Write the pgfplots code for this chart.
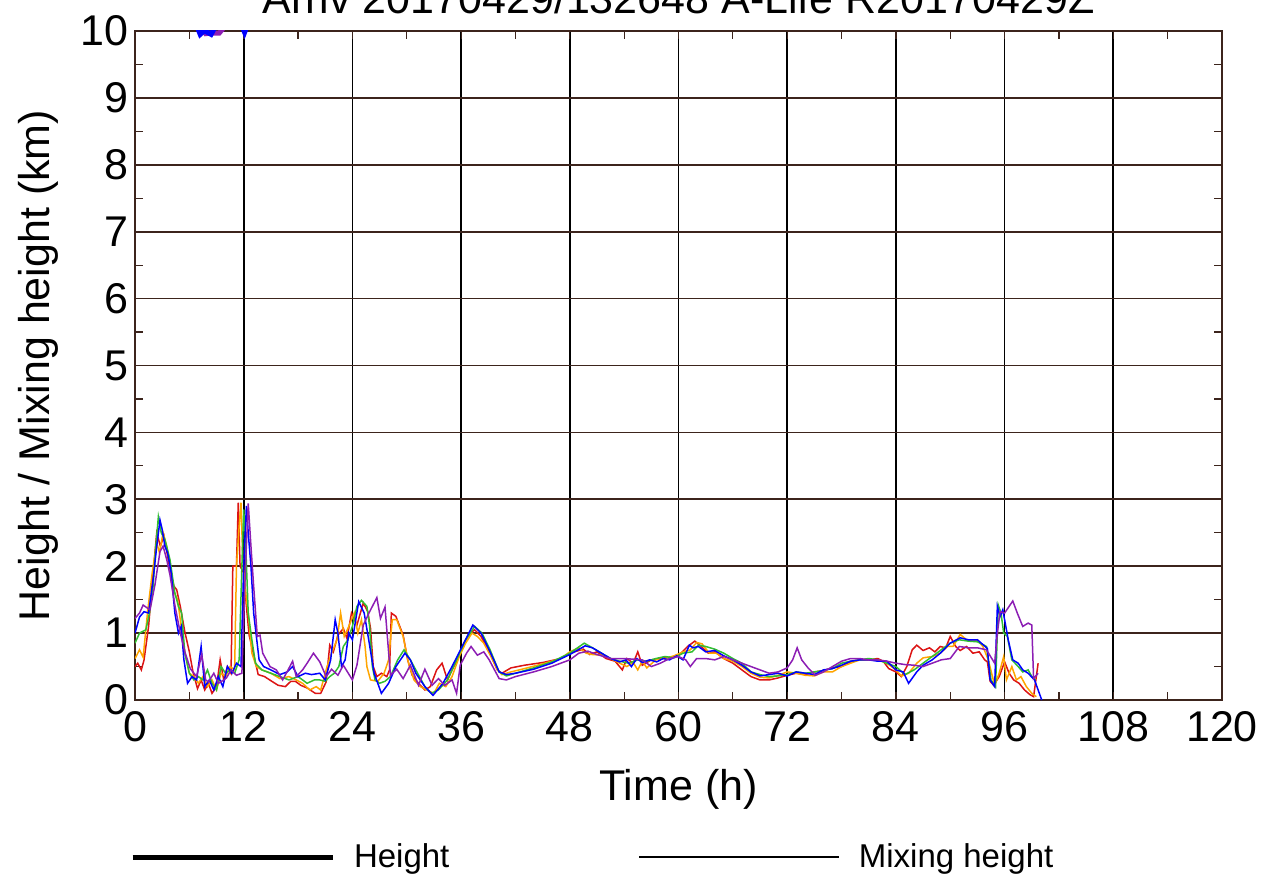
\documentclass[border=0pt]{standalone}
\usepackage{pgfplots}
\pgfplotsset{compat=1.18}
\usepackage{fontspec}
\setmainfont{Liberation Sans}

\definecolor{framec}{RGB}{60,36,28}
\definecolor{cred}{RGB}{220,20,20}
\definecolor{corange}{RGB}{255,165,0}
\definecolor{cgreen}{RGB}{50,190,50}
\definecolor{cblue}{RGB}{0,0,255}
\definecolor{cpurple}{RGB}{140,30,180}

\begin{document}
\begin{tikzpicture}
\begin{axis}[
  scale only axis,
  width=543.5pt, height=334.5pt,
  xmin=0, xmax=120, ymin=0, ymax=10,
  xtick={0,12,...,120}, ytick={0,1,...,10},
  minor x tick num=1, minor y tick num=1,
  tick align=inside,
  major tick length=4pt, minor tick length=4pt,
  every tick/.style={framec, line width=0.6pt},
  grid=major,
  major x grid style={black, line width=0.85pt},
  major y grid style={framec, line width=0.85pt},
  axis line style={framec, line width=1pt},
  /pgf/number format/assume math mode=true,
  tick label style={font=\fontsize{21.5}{24}\selectfont},
  xticklabel style={yshift=-2pt},
  xlabel={Time (h)},
  ylabel={Height / Mixing height (km)},
  label style={font=\fontsize{21.5}{24}\selectfont},
  xlabel style={at={(axis description cs:0.5,0)}, anchor=base, yshift=-50pt},
  ylabel style={at={(axis description cs:-0.0782,0.5)}, anchor=base, rotate=0},
  title={Arriv 20170429/132648 A-Life R20170429Z},
  title style={font=\fontsize{21.5}{24}\selectfont, at={(axis description cs:0.5,1)}, anchor=base, yshift=2.5pt},
  legend columns=2,
  legend image code/.code={\draw[#1] (0pt,0pt) -- (100pt,0pt);},
  legend style={draw=none, fill=none, inner sep=0pt, outer sep=0pt,
    font=\fontsize{16.5}{19}\selectfont,
    at={(axis description cs:-0.0046,-0.2347)}, anchor=west,
    nodes={inner sep=0pt},
    /tikz/every odd column/.append style={column sep=9.5pt},
    /tikz/every even column/.append style={column sep=94.5pt}},
  every axis plot/.append style={line width=0.75pt},
]
\addlegendimage{black, line width=2.5pt}
\addlegendentry{Height}
\addlegendimage{black, line width=0.75pt}
\addlegendentry{Mixing height}

% red
\addplot[cred, forget plot] coordinates {
(0,0.5)(0.3,0.55)(0.7,0.45)(1.0,0.6)(1.5,1.1)(2.0,1.9)(2.4,2.5)(2.8,2.3)(3.2,2.45)(3.8,2.0)
(4.3,1.7)(4.6,1.65)(5.0,1.4)(5.5,1.02)(6.0,0.72)(6.4,0.42)(6.9,0.17)(7.3,0.3)(7.7,0.15)(8.1,0.25)
(8.5,0.1)(9.0,0.2)(9.4,0.6)(9.8,0.3)(10.2,0.5)(10.6,0.4)(10.8,2.0)(11.2,2.0)(11.4,2.95)(11.6,2.0)
(12.0,1.9)(12.3,1.4)(12.6,0.97)(13.2,0.62)(13.6,0.38)(14.3,0.35)(15.1,0.28)(15.8,0.22)(16.6,0.2)
(17.2,0.28)(17.7,0.28)(18.3,0.22)(19.0,0.18)(19.9,0.1)(20.5,0.1)(21.1,0.27)(21.5,0.82)(21.9,0.72)
(22.4,0.97)(23.0,1.07)(23.4,0.92)(23.9,1.3)(24.5,1.12)(25.2,1.45)(25.7,1.32)(26.0,1.07)(26.3,0.5)
(26.7,0.35)(27.2,0.4)(27.8,0.35)(28.1,0.45)(28.3,1.3)(28.8,1.25)(29.6,0.97)(30.1,0.6)(30.6,0.37)
(31.3,0.25)(32.0,0.15)(32.6,0.2)(33.3,0.45)(33.9,0.55)(34.5,0.3)(35.0,0.45)(35.6,0.6)(36.3,0.85)
(37.0,1.0)(37.5,1.05)(38.2,0.95)(39.0,0.75)(40.0,0.45)(40.5,0.4)(41.5,0.48)(43,0.52)(45,0.56)
(47,0.62)(48,0.7)(49.5,0.76)(50.2,0.68)(51,0.72)(52,0.62)(53,0.58)(53.8,0.45)(54.3,0.62)(55,0.55)
(55.5,0.72)(56,0.52)(57,0.6)(58,0.62)(59,0.64)(60,0.66)(61,0.8)(61.8,0.88)(62.5,0.8)(63.3,0.7)
(64,0.72)(65,0.62)(66,0.55)(67,0.45)(68,0.35)(69,0.3)(70,0.3)(71,0.33)(72,0.37)(73,0.4)(74,0.38)
(75,0.42)(76,0.44)(77,0.48)(78,0.5)(79,0.57)(80,0.6)(81,0.6)(82,0.62)(82.6,0.58)(83.2,0.47)
(84,0.42)(84.6,0.35)(85.2,0.5)(85.8,0.75)(86.3,0.82)(87,0.74)(87.7,0.78)(88.3,0.72)(88.9,0.8)
(89.5,0.78)(90,0.95)(90.6,0.8)(91.1,0.74)(91.8,0.8)(92.5,0.7)(93.2,0.72)(93.8,0.6)(94.1,0.57)
(94.4,0.28)(94.8,0.22)(95.4,0.35)(96,0.57)(96.5,0.4)(97,0.3)(97.6,0.25)(98.2,0.15)(98.8,0.08)
(99.2,0.05)(99.5,0.35)(99.7,0.55)
};
% orange
\addplot[corange, forget plot] coordinates {
(0,0.62)(0.5,0.75)(0.9,0.64)(1.4,1.33)(1.9,1.9)(2.4,2.35)(2.7,2.2)(3.1,2.5)(3.5,2.3)(3.9,2.0)
(4.3,1.62)(4.7,1.5)(5.0,1.2)(5.5,0.72)(6.0,0.4)(6.5,0.35)(7.0,0.25)(7.5,0.35)(8.0,0.2)(8.5,0.3)
(9.0,0.15)(9.5,0.4)(10.0,0.35)(10.5,0.5)(11.0,0.45)(11.2,2.0)(11.5,2.6)(11.7,2.95)(11.9,2.1)
(12.3,1.5)(12.5,1.3)(12.9,0.7)(13.4,0.5)(14.0,0.45)(15,0.4)(16,0.32)(17,0.35)(17.8,0.3)(18.5,0.25)
(19.3,0.15)(20,0.2)(20.5,0.15)(21.2,0.5)(21.7,0.7)(22.3,0.9)(22.7,1.3)(23.1,0.95)(23.6,1.1)
(24.2,1.3)(24.6,1.0)(25.0,1.2)(25.4,0.8)(25.6,0.5)(26.0,0.3)(26.8,0.28)(27.5,0.4)(28.0,0.6)
(28.4,1.2)(28.9,1.2)(29.6,0.95)(30.2,0.55)(30.8,0.3)(31.5,0.2)(32.2,0.15)(33,0.1)(33.6,0.25)
(34.3,0.2)(35,0.35)(35.8,0.65)(36.5,0.85)(37.2,1.0)(37.8,0.95)(38.5,0.85)(39.3,0.65)(40.0,0.45)
(40.5,0.38)(41.5,0.42)(43,0.47)(45,0.54)(47,0.62)(48,0.72)(49,0.78)(49.8,0.7)(50.5,0.68)
(51.5,0.67)(52.5,0.62)(53.5,0.55)(54.3,0.5)(55,0.56)(55.5,0.45)(56,0.58)(56.5,0.48)(57.5,0.6)
(58.5,0.62)(59.5,0.66)(60.5,0.72)(61.3,0.75)(62.0,0.86)(62.6,0.84)(63.4,0.7)(64.2,0.7)(65,0.62)
(66,0.58)(67,0.5)(68,0.4)(69,0.34)(70,0.33)(71,0.37)(72,0.42)(73,0.4)(74,0.37)(75,0.36)(76,0.42)
(77,0.42)(78,0.5)(79,0.55)(80,0.6)(81,0.6)(82,0.6)(83,0.55)(83.5,0.5)(84,0.45)(84.6,0.36)
(85.4,0.4)(86.3,0.55)(87,0.63)(88,0.65)(88.9,0.7)(89.7,0.8)(90.3,0.8)(91.1,0.98)(91.8,0.9)
(92.5,0.88)(93,0.9)(93.6,0.8)(94.2,0.6)(94.9,0.22)(95.4,0.4)(95.9,0.65)(96.2,0.3)(96.8,0.5)
(97.3,0.3)(97.8,0.35)(98.4,0.2)(99.0,0.1)(99.5,0.05)
};
% green
\addplot[cgreen, forget plot] coordinates {
(0,0.85)(0.5,1.0)(1.2,1.05)(1.6,1.3)(2.0,1.7)(2.3,2.3)(2.58,2.74)(2.9,2.5)(3.3,2.4)(3.86,2.1)
(4.4,1.6)(4.8,1.4)(5.15,1.3)(5.5,0.7)(6.0,0.4)(6.5,0.3)(7.0,0.35)(7.5,0.3)(8.0,0.45)(8.5,0.25)
(9.0,0.15)(9.5,0.5)(10.0,0.4)(10.5,0.45)(11,0.4)(11.5,0.6)(11.8,2.0)(12.0,2.85)(12.2,2.4)
(12.5,1.3)(12.9,0.9)(13.3,0.55)(14,0.45)(15,0.4)(16,0.35)(17,0.3)(18,0.35)(19,0.25)(19.8,0.3)
(20.4,0.3)(21,0.28)(21.5,0.35)(22,0.4)(22.5,0.5)(23.0,0.8)(23.5,0.9)(24,1.1)(24.5,1.4)(25.0,1.49)
(25.6,1.4)(25.9,1.1)(26.2,0.5)(26.5,0.3)(27,0.25)(27.6,0.28)(28.2,0.35)(29,0.6)(29.7,0.75)
(30.4,0.6)(31,0.45)(32,0.2)(32.7,0.1)(33.5,0.15)(34.5,0.3)(35.5,0.6)(36.5,0.9)(37.5,1.1)(38.3,1.0)
(39.2,0.75)(40.2,0.42)(41,0.36)(42,0.4)(44,0.48)(46,0.57)(48,0.7)(49.6,0.85)(50.5,0.78)(51.5,0.7)
(52.5,0.62)(53.5,0.58)(54.5,0.55)(55.5,0.6)(56.5,0.58)(57.5,0.62)(58.5,0.65)(59.5,0.63)(60.5,0.7)
(61.5,0.72)(62.2,0.82)(63,0.8)(64,0.76)(65,0.7)(66,0.62)(67,0.55)(68,0.42)(69,0.38)(70,0.35)
(71,0.36)(72,0.38)(73,0.42)(74,0.4)(75,0.42)(76,0.44)(77,0.47)(78,0.55)(79,0.58)(80,0.6)(81,0.62)
(82,0.6)(83,0.55)(84,0.5)(85,0.38)(86,0.45)(87,0.55)(88,0.65)(89,0.75)(90,0.85)(91,0.9)(92,0.88)
(93,0.87)(94,0.8)(94.5,0.3)(95,0.2)(95.3,1.42)(95.6,1.3)(95.9,1.0)(96.3,0.95)(96.8,0.6)(97.5,0.5)
(98,0.42)(98.6,0.45)(99,0.35)(99.4,0.3)
};
% blue
\addplot[cblue, forget plot] coordinates {
(0,1.0)(0.5,1.24)(1.0,1.32)(1.5,1.3)(2.0,1.8)(2.4,2.3)(2.76,2.69)(3.0,2.55)(3.3,2.3)(3.6,2.2)
(4.0,1.9)(4.4,1.3)(4.8,1.0)(5.1,1.1)(5.4,0.6)(5.8,0.25)(6.3,0.35)(6.8,0.3)(7.3,0.8)(7.7,0.2)
(8.2,0.3)(8.7,0.15)(9.2,0.35)(9.7,0.2)(10.2,0.5)(10.7,0.4)(11.2,0.55)(11.7,0.5)(12.0,2.0)(12.3,2.9)
(12.5,2.5)(12.8,2.0)(13.1,1.3)(13.4,0.95)(13.7,0.6)(14.2,0.5)(15,0.45)(16,0.38)(16.8,0.42)
(17.4,0.5)(18,0.35)(18.8,0.4)(19.5,0.38)(20.4,0.4)(21,0.3)(21.6,0.6)(22.1,1.2)(22.4,1.0)(22.8,0.5)
(23.2,0.6)(23.6,1.0)(24,0.9)(24.7,1.47)(25.3,1.3)(25.8,0.9)(26.4,0.4)(27.2,0.1)(28,0.25)(28.8,0.5)
(29.8,0.7)(30.4,0.6)(31,0.4)(32,0.2)(32.9,0.07)(34,0.25)(35,0.5)(36.3,0.85)(37.3,1.12)(38.2,1.0)
(39.2,0.72)(40.2,0.42)(41,0.38)(42,0.4)(44,0.46)(46,0.55)(48,0.68)(49.7,0.81)(50.5,0.78)(51.5,0.7)
(52.5,0.62)(53.5,0.57)(54.2,0.6)(54.8,0.5)(55.4,0.62)(56,0.56)(56.8,0.6)(57.6,0.57)(58.3,0.62)
(59,0.6)(59.8,0.66)(60.5,0.6)(61.2,0.82)(61.6,0.78)(62.2,0.8)(63,0.72)(64,0.74)(65,0.66)(66,0.6)
(67,0.52)(68,0.42)(69,0.36)(70,0.38)(71,0.4)(72,0.36)(73,0.42)(74,0.4)(75,0.38)(76,0.45)(77,0.47)
(78,0.52)(79,0.58)(80,0.6)(81,0.6)(82,0.58)(83,0.58)(84,0.45)(84.8,0.42)(85.4,0.25)(86.3,0.42)
(87,0.52)(88,0.6)(88.9,0.7)(90,0.85)(91.1,0.93)(92,0.9)(93,0.9)(94.1,0.77)(94.4,0.3)(94.9,0.2)
(95.2,1.4)(95.5,1.25)(95.8,1.35)(96,1.2)(96.4,0.9)(96.9,0.6)(97.5,0.55)(98,0.45)(98.6,0.4)
(99.3,0.3)(100.1,0.0)
};
% purple
\addplot[cpurple, forget plot] coordinates {
(0,1.22)(0.5,1.3)(0.9,1.42)(1.3,1.38)(1.66,1.35)(2.2,1.72)(2.76,2.22)(3.1,2.3)(3.5,2.1)(3.86,1.87)
(4.4,1.42)(4.97,1.02)(5.5,0.72)(6.1,0.47)(6.8,0.35)(7.36,0.68)(7.8,0.3)(8.1,0.27)(8.7,0.4)
(9.2,0.25)(9.8,0.3)(10.1,0.33)(10.6,0.45)(11.2,0.37)(11.8,0.4)(12.2,2.0)(12.5,2.94)(12.8,2.3)
(13.1,1.7)(13.5,0.95)(13.8,0.97)(14.1,0.7)(14.9,0.5)(15.6,0.45)(16.3,0.3)(16.9,0.45)(17.4,0.58)
(17.8,0.35)(18.5,0.45)(19.0,0.55)(19.7,0.7)(20.4,0.57)(21.1,0.35)(21.7,0.46)(22.4,0.37)(23.0,0.52)
(24,0.3)(24.5,0.52)(25.2,1.12)(25.9,1.32)(26.7,1.53)(27.1,1.22)(27.6,1.39)(28.2,0.37)(28.9,0.46)
(29.6,0.32)(30.4,0.52)(31.3,0.22)(32,0.46)(32.8,0.22)(33.5,0.32)(34.2,0.22)(35,0.3)(35.5,0.1)
(35.9,0.52)(36.6,0.7)(37.1,0.8)(37.8,0.67)(38.5,0.72)(39.1,0.6)(40.2,0.32)(41,0.3)(42,0.35)
(44,0.42)(46,0.5)(48,0.6)(49,0.7)(50,0.73)(51,0.68)(52.5,0.62)(54,0.62)(56,0.6)(57,0.5)(58,0.55)
(59,0.62)(60,0.65)(60.8,0.6)(61.3,0.5)(62,0.62)(63,0.62)(64,0.6)(65,0.65)(66,0.6)(67,0.55)(68,0.5)
(69,0.45)(70,0.4)(71,0.42)(72,0.48)(72.6,0.6)(73.1,0.78)(73.6,0.6)(74.3,0.48)(75.1,0.37)(76,0.42)
(77,0.5)(78,0.58)(79,0.62)(80,0.62)(81,0.6)(82,0.6)(83,0.58)(84,0.55)(85,0.53)(86,0.52)(87,0.5)
(88,0.55)(89,0.6)(90,0.62)(91,0.8)(92,0.78)(93,0.78)(94,0.75)(94.9,0.55)(95.2,1.0)(95.5,1.32)
(96,1.3)(96.4,1.38)(96.9,1.48)(97.4,1.3)(98,1.1)(98.6,1.15)(99,1.12)(99.2,0.32)(99.7,0.4)
};
% heights (thick), clipped at the top
\addplot[cpurple, line width=2.5pt, forget plot] coordinates {
(7.3,10.05)(7.8,9.96)(8.5,9.97)(9.3,9.97)(9.8,10.05)
};
\addplot[cblue, line width=2.5pt, forget plot] coordinates {
(6.9,10.05)(7.2,9.95)(7.6,10.0)(8.0,9.98)(8.4,9.95)(8.8,10.05)
};
\addplot[cblue, line width=2.5pt, forget plot] coordinates {
(11.9,10.05)(12.1,9.98)(12.3,10.05)
};
\end{axis}
\pgfresetboundingbox
\path[use as bounding box] (-67.5pt,-89pt) rectangle (571pt,350pt);
\end{tikzpicture}
\end{document}
